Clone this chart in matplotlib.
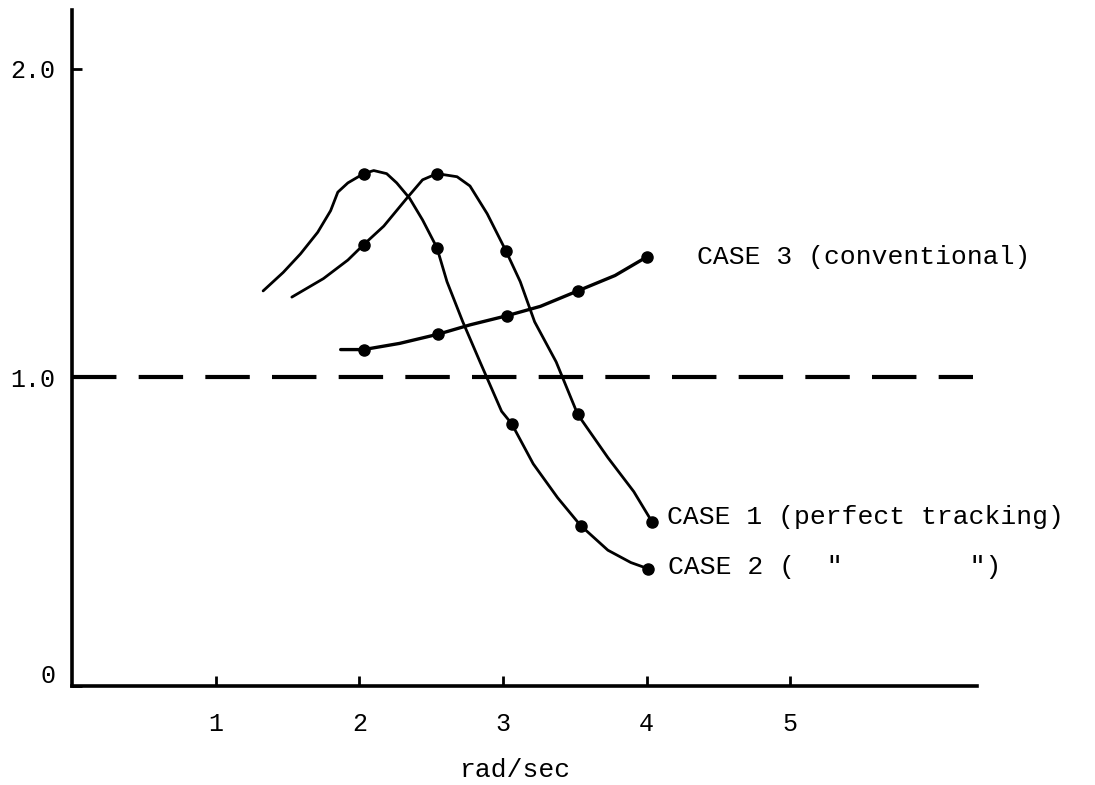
import matplotlib
matplotlib.use("Agg")
import matplotlib.pyplot as plt
import matplotlib.transforms as mtransforms

plt.rcParams['font.family'] = ['Liberation Mono', 'DejaVu Sans Mono']
plt.rcParams['lines.scale_dashes'] = False

# curve traces (x in rad/sec)
case2_x = [1.33, 1.47, 1.59, 1.71, 1.80, 1.85, 1.92, 2.03, 2.10, 2.19, 2.26, 2.35, 2.44,
           2.54, 2.61, 2.72, 2.84, 2.99, 3.06, 3.21, 3.38, 3.54, 3.73, 3.89, 4.01]
case2_y = [1.28, 1.34, 1.40, 1.47, 1.54, 1.60, 1.63, 1.66, 1.67, 1.66, 1.63, 1.58, 1.51,
           1.42, 1.31, 1.18, 1.05, 0.89, 0.85, 0.72, 0.61, 0.52, 0.44, 0.40, 0.38]
case2_pts_x = [2.03, 2.54, 3.06, 3.54, 4.01]
case2_pts_y = [1.66, 1.42, 0.85, 0.52, 0.38]

case1_x = [1.53, 1.75, 1.92, 2.03, 2.17, 2.33, 2.44, 2.54, 2.68, 2.77, 2.89, 3.02, 3.12,
           3.22, 3.37, 3.52, 3.73, 3.91, 4.04]
case1_y = [1.26, 1.32, 1.38, 1.43, 1.49, 1.58, 1.64, 1.66, 1.65, 1.62, 1.53, 1.41, 1.31,
           1.18, 1.05, 0.88, 0.74, 0.63, 0.53]
case1_pts_x = [2.03, 2.54, 3.02, 3.52, 4.04]
case1_pts_y = [1.43, 1.66, 1.41, 0.88, 0.53]

case3_x = [1.87, 2.03, 2.28, 2.55, 2.77, 3.03, 3.26, 3.52, 3.78, 4.00]
case3_y = [1.09, 1.09, 1.11, 1.14, 1.17, 1.20, 1.23, 1.28, 1.33, 1.39]
case3_pts_x = [2.03, 2.55, 3.03, 3.52, 4.00]
case3_pts_y = [1.09, 1.14, 1.20, 1.28, 1.39]

x_ticks = [1, 2, 3, 4, 5]
y_ticks = [0, 1.0, 2.0]
y_ticklabels = ['0', '1.0', '2.0']

fig = plt.figure(figsize=(10.95, 7.85), dpi=100)
ax = fig.add_axes([0.0658, 0.1261, 0.8265, 0.8611])

# reference line at 1.0
ax.axhline(1.0, xmin=0, xmax=0.995, color='black', lw=3.0, dashes=(32, 16))

for xs, ys, px, py, lw in [(case1_x, case1_y, case1_pts_x, case1_pts_y, 2.0),
                           (case2_x, case2_y, case2_pts_x, case2_pts_y, 2.0),
                           (case3_x, case3_y, case3_pts_x, case3_pts_y, 2.4)]:
    ax.plot(xs, ys, color='black', lw=lw, solid_capstyle='round', solid_joinstyle='round')
    ax.plot(px, py, 'o', color='black', ms=8)

ax.text(4.14, 0.547, 'CASE 1 (perfect tracking)', fontsize=19, va='center')
ax.text(4.15, 0.385, 'CASE 2 (  "        ")', fontsize=19, va='center')
ax.text(4.35, 1.39, 'CASE 3 (conventional)', fontsize=19, va='center')

ax.set_xlim(0, 6.30)
ax.set_ylim(0, 2.19)
ax.set_xticks(x_ticks)
ax.set_yticks(y_ticks)
ax.set_yticklabels(y_ticklabels)
ax.tick_params(axis='x', direction='in', length=7, width=2, labelsize=18, pad=19)
ax.tick_params(axis='y', direction='in', length=7, width=2, labelsize=18, pad=12)

# the "0" sits a little above the axis line in the original
zero_lbl = ax.yaxis.get_major_ticks()[0].label1
zero_lbl.set_transform(zero_lbl.get_transform() +
                       mtransforms.ScaledTranslation(0, 0.13, fig.dpi_scale_trans))

for s in ['top', 'right']:
    ax.spines[s].set_visible(False)
for s in ['left', 'bottom']:
    ax.spines[s].set_linewidth(2.6)

ax.set_xlabel('rad/sec', fontsize=19, va='center')
ax.xaxis.set_label_coords(0.49, -0.124)

fig.savefig('out.png', dpi=100, facecolor='white')
